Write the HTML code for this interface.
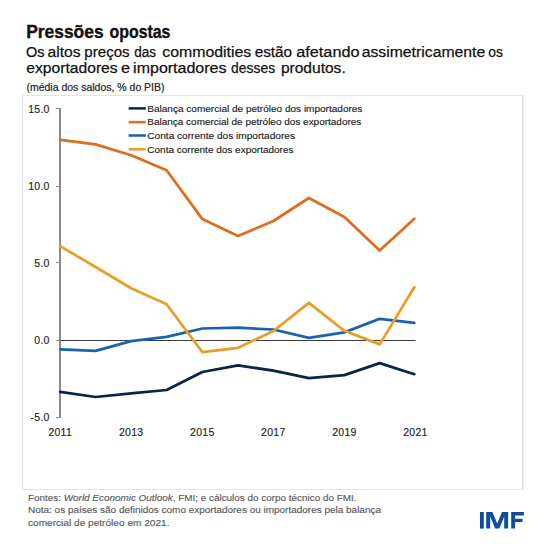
<!DOCTYPE html>
<html><head><meta charset="utf-8"><style>
html,body{margin:0;padding:0;background:#fff;width:550px;height:550px;overflow:hidden}
svg{display:block}
text{font-family:"Liberation Sans",sans-serif}
.t{font-size:18px;font-weight:bold;fill:#111;stroke:#111;stroke-width:0.35px}
.s{font-size:15.5px;fill:#111;stroke:#111;stroke-width:0.25px}
.u{font-size:10.5px;fill:#222;stroke:#222;stroke-width:0.2px}
.ax{font-size:10.5px;fill:#222;stroke:#222;stroke-width:0.15px}
.lg{font-size:9.5px;fill:#222;stroke:#222;stroke-width:0.15px}
.f{font-size:9.7px;fill:#595959;stroke:#595959;stroke-width:0.15px}
</style></head><body>
<svg width="550" height="550" viewBox="0 0 550 550">
<rect x="0" y="0" width="550" height="550" fill="#fff"/>
<text x="26.13" y="37.7" class="t" textLength="77.48" lengthAdjust="spacingAndGlyphs">Pressões</text><text x="109.58" y="37.7" class="t" textLength="60.87" lengthAdjust="spacingAndGlyphs">opostas</text>
<text x="26.11" y="56.9" class="s" textLength="18.51" lengthAdjust="spacingAndGlyphs">Os</text><text x="47.54" y="56.9" class="s" textLength="33.03" lengthAdjust="spacingAndGlyphs">altos</text><text x="84.33" y="56.9" class="s" textLength="45.32" lengthAdjust="spacingAndGlyphs">preços</text><text x="134.33" y="56.9" class="s" textLength="21.75" lengthAdjust="spacingAndGlyphs">das</text><text x="162.23" y="56.9" class="s" textLength="89.05" lengthAdjust="spacingAndGlyphs">commodities</text><text x="254.65" y="56.9" class="s" textLength="37.49" lengthAdjust="spacingAndGlyphs">estão</text><text x="296.21" y="56.9" class="s" textLength="63.38" lengthAdjust="spacingAndGlyphs">afetando</text><text x="361.73" y="56.9" class="s" textLength="123.47" lengthAdjust="spacingAndGlyphs">assimetricamente</text><text x="488.22" y="56.9" class="s" textLength="14.69" lengthAdjust="spacingAndGlyphs">os</text>
<text x="26.23" y="72.7" class="s" textLength="91.43" lengthAdjust="spacingAndGlyphs">exportadores</text><text x="121.11" y="72.7" class="s" textLength="9.01" lengthAdjust="spacingAndGlyphs">e</text><text x="133.13" y="72.7" class="s" textLength="93.35" lengthAdjust="spacingAndGlyphs">importadores</text><text x="231.12" y="72.7" class="s" textLength="43.98" lengthAdjust="spacingAndGlyphs">desses</text><text x="280.90" y="72.7" class="s" textLength="64.82" lengthAdjust="spacingAndGlyphs">produtos.</text>
<text x="26.5" y="90.5" class="u" textLength="138" lengthAdjust="spacingAndGlyphs">(média dos saldos, % do PIB)</text>
<rect x="22.5" y="95.5" width="500" height="394" fill="none" stroke="#e3e3e8" stroke-width="1"/><rect x="523" y="95" width="1" height="395" fill="#eeeef2"/>
<line x1="60" y1="108" x2="60" y2="418" stroke="#8a8a8a" stroke-width="2"/>
<line x1="56" y1="108.5" x2="60" y2="108.5" stroke="#8a8a8a" stroke-width="1"/><text x="49.7" y="112.55" text-anchor="end" class="ax" letter-spacing="0.25">15.0</text><line x1="56" y1="186.5" x2="60" y2="186.5" stroke="#8a8a8a" stroke-width="1"/><text x="49.7" y="189.60" text-anchor="end" class="ax" letter-spacing="0.25">10.0</text><line x1="56" y1="262.5" x2="60" y2="262.5" stroke="#8a8a8a" stroke-width="1"/><text x="49.7" y="266.65" text-anchor="end" class="ax" letter-spacing="0.25">5.0</text><line x1="56" y1="340.5" x2="60" y2="340.5" stroke="#8a8a8a" stroke-width="1"/><text x="49.7" y="343.70" text-anchor="end" class="ax" letter-spacing="0.25">0.0</text><line x1="56" y1="417.5" x2="60" y2="417.5" stroke="#8a8a8a" stroke-width="1"/><text x="49.7" y="420.75" text-anchor="end" class="ax" letter-spacing="0.25">-5.0</text>
<line x1="60" y1="340.5" x2="415.5" y2="340.5" stroke="#3c3c3c" stroke-width="1"/>
<text x="60.2" y="436.2" text-anchor="middle" class="ax" letter-spacing="0.25">2011</text><text x="131.2" y="436.2" text-anchor="middle" class="ax" letter-spacing="0.25">2013</text><text x="202.3" y="436.2" text-anchor="middle" class="ax" letter-spacing="0.25">2015</text><text x="273.3" y="436.2" text-anchor="middle" class="ax" letter-spacing="0.25">2017</text><text x="344.4" y="436.2" text-anchor="middle" class="ax" letter-spacing="0.25">2019</text><text x="415.4" y="436.2" text-anchor="middle" class="ax" letter-spacing="0.25">2021</text>
<polyline points="60.2,391.8 95.6,397.0 131.1,393.4 166.6,390.0 202.4,372.0 238.0,365.3 273.4,370.7 308.9,378.1 344.4,375.1 379.7,363.1 414.3,374.2" fill="none" stroke="#0a2449" stroke-width="2.75" stroke-linejoin="round" stroke-linecap="round"/><polyline points="60.2,139.8 95.6,144.4 131.1,155.2 166.6,170.2 202.4,219.1 238.0,236.1 273.4,221.0 308.9,198.0 344.4,217.0 379.7,250.4 414.3,218.7" fill="none" stroke="#de6d1e" stroke-width="2.75" stroke-linejoin="round" stroke-linecap="round"/><polyline points="60.2,349.3 95.6,350.8 131.1,341.2 166.6,336.8 202.4,328.5 238.0,327.7 273.4,329.5 308.9,337.9 344.4,332.4 379.7,318.8 414.3,322.8" fill="none" stroke="#1a62b0" stroke-width="2.75" stroke-linejoin="round" stroke-linecap="round"/><polyline points="60.2,246.1 95.6,267.0 131.1,288.2 166.6,304.2 202.4,352.2 238.0,347.8 273.4,331.0 308.9,302.8 344.4,330.8 379.7,344.4 414.3,287.2" fill="none" stroke="#e69e28" stroke-width="2.75" stroke-linejoin="round" stroke-linecap="round"/>
<line x1="128.6" y1="108.4" x2="145.8" y2="108.4" stroke="#0a2449" stroke-width="2.5"/><text x="147.3" y="111.5" class="lg" textLength="215.1" lengthAdjust="spacingAndGlyphs">Balança comercial de petróleo dos importadores</text><line x1="128.6" y1="122.1" x2="145.8" y2="122.1" stroke="#de6d1e" stroke-width="2.5"/><text x="147.3" y="125.0" class="lg" textLength="214" lengthAdjust="spacingAndGlyphs">Balança comercial de petróleo dos exportadores</text><line x1="128.6" y1="135.5" x2="145.8" y2="135.5" stroke="#1a62b0" stroke-width="2.5"/><text x="147.3" y="139.0" class="lg" textLength="147.7" lengthAdjust="spacingAndGlyphs">Conta corrente dos importadores</text><line x1="128.6" y1="149.3" x2="145.8" y2="149.3" stroke="#e69e28" stroke-width="2.5"/><text x="147.3" y="152.6" class="lg" textLength="146.2" lengthAdjust="spacingAndGlyphs">Conta corrente dos exportadores</text>
<text x="28" y="501" class="f" textLength="328.5" lengthAdjust="spacingAndGlyphs">Fontes: <tspan font-style="italic">World Economic Outlook</tspan>, FMI; e cálculos do corpo técnico do FMI.</text>
<text x="28" y="513.3" class="f" textLength="353" lengthAdjust="spacingAndGlyphs">Nota: os países são definidos como exportadores ou importadores pela balança</text>
<text x="28" y="525.6" class="f" textLength="141.5" lengthAdjust="spacingAndGlyphs">comercial de petróleo em 2021.</text>
<g fill="#0f4c9a"><rect x="480" y="512" width="3.8" height="16.6"/><path d="M486.2,528.6 L486.2,512 L492.4,512 L497.2,523.5 L502,512 L508.1,512 L508.1,528.6 L504.2,528.6 L504.2,516.5 L499.3,528.6 L495.1,528.6 L490.2,516.5 L490.2,528.6 Z"/><path d="M511.2,528.6 L511.2,512 L523.9,512 L523.9,515.4 L515.1,515.4 L515.1,518.7 L522.5,518.7 L522.5,521.9 L515.1,521.9 L515.1,528.6 Z"/></g>
</svg>
</body></html>
